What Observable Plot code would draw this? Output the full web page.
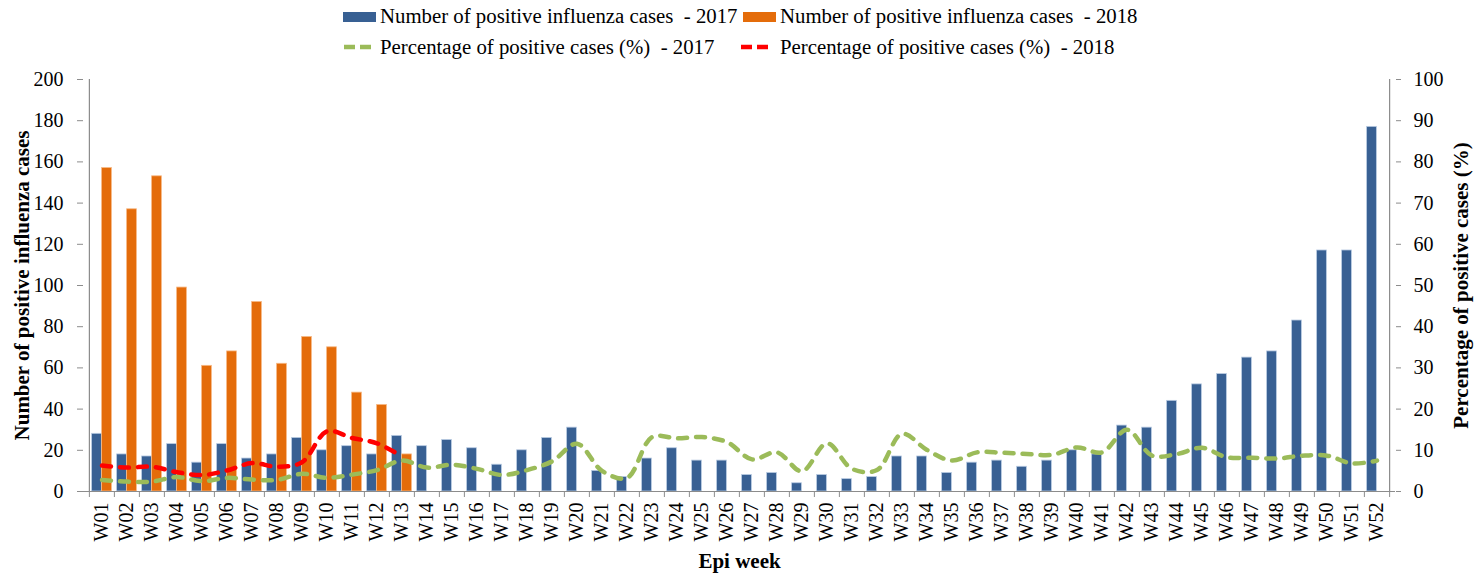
<!DOCTYPE html>
<html>
<head>
<meta charset="utf-8">
<script src="https://cdn.jsdelivr.net/npm/d3@7"></script>
<script src="https://cdn.jsdelivr.net/npm/@observablehq/plot@0.6"></script>
<style>
  body { margin: 0; background: #fff; }
  svg { display: block; }
  #chart { width: 1483px; }
  #chart svg, #chart svg text { font-family: "Liberation Serif", "Times New Roman", serif !important; }
</style>
</head>
<body>
<div id="chart"></div>
<script>
// ---------- data ----------
const weeks = ["W01","W02","W03","W04","W05","W06","W07","W08","W09","W10",
  "W11","W12","W13","W14","W15","W16","W17","W18","W19","W20",
  "W21","W22","W23","W24","W25","W26","W27","W28","W29","W30",
  "W31","W32","W33","W34","W35","W36","W37","W38","W39","W40",
  "W41","W42","W43","W44","W45","W46","W47","W48","W49","W50",
  "W51","W52"];

const cases2017 = [28,18,17,23,14,23,16,18,26,20,
  22,18,27,22,25,21,13,20,26,31,
  10,7,16,21,15,15,8,9,4,8,
  6,7,17,17,9,14,15,12,15,20,
  18,32,31,44,52,57,65,68,83,117,
  117,177];

const cases2018 = [157,137,153,99,61,68,92,62,75,70,48,42,18];

const pct2017 = [2.8,2.4,2.4,3.5,2.5,3.3,2.9,2.8,4.3,3.3,
  4.1,5.2,7.5,5.8,6.5,5.5,4.0,5.2,7.3,11.6,
  5.0,3.3,13.2,12.9,13.2,12.0,7.8,9.5,4.9,11.7,
  5.5,5.2,14.0,10.1,7.5,9.5,9.4,9.1,8.9,10.7,
  9.5,15.0,8.7,9.1,10.6,8.3,8.2,8.0,8.7,8.7,
  6.8,7.5];

const pct2018 = [6.3,5.8,6.0,4.7,4.0,5.1,6.9,6.0,7.1,14.6,13.0,11.7,8.5];

const leftTicks = [0,20,40,60,80,100,120,140,160,180,200];
const rightTicks = [0,10,20,30,40,50,60,70,80,90,100];

const seriesNames = [
  "Number of positive influenza cases  - 2017",
  "Number of positive influenza cases  - 2018",
  "Percentage of positive cases (%)  - 2017",
  "Percentage of positive cases (%)  - 2018"
];
const seriesColors = ["#386093", "#E46C0A", "#9BBB59", "#FF0000"];

const yTitleLeft = "Number of positive influenza cases";
const yTitleRight = "Percentage of positive cases (%)";
const xTitle = "Epi week";

// ---------- layout ----------
const W = 1483, legendH = 62, H = 575 - legendH;
const mL = 83, mR = 88, mT = 17, mB = 84;
const bw = (W - mL - mR) / weeks.length;
const barW = 10;
const pctToCount = 200 / 100; // right axis 0–100 shares the left 0–200 range
const axisGray = "#8c8c8c";
const font = "'Liberation Serif', 'Times New Roman', serif";

const bars17 = weeks.map((w, i) => ({week: w, value: cases2017[i]}));
const bars18 = cases2018.map((v, i) => ({week: weeks[i], value: v}));
const line17 = weeks.map((w, i) => ({week: w, pct: pct2017[i]}));
const line18 = pct2018.map((v, i) => ({week: weeks[i], pct: v}));

// ---------- legend ----------
const legend = d3.create("svg")
  .attr("width", W).attr("height", legendH)
  .style("font-size", "20.8px");

const legItems = [
  {kind: "rect", sx: 343, tx: 380, cy: 17, base: 23},
  {kind: "rect", sx: 743, tx: 780, cy: 17, base: 23},
  {kind: "line", sx: 344, tx: 380, cy: 47, base: 54},
  {kind: "line", sx: 741, tx: 780, cy: 47, base: 54}
];
legItems.forEach((it, i) => {
  if (it.kind === "rect") {
    legend.append("rect").attr("x", it.sx).attr("y", it.cy - 5)
      .attr("width", 33).attr("height", 10).attr("fill", seriesColors[i]);
  } else {
    legend.append("line").attr("x1", it.sx).attr("x2", it.sx + 28)
      .attr("y1", it.cy).attr("y2", it.cy)
      .attr("stroke", seriesColors[i]).attr("stroke-width", 4.5)
      .attr("stroke-dasharray", "11,5");
  }
  legend.append("text").attr("x", it.tx).attr("y", it.base)
    .style("white-space", "pre").attr("fill", "#000").text(seriesNames[i]);
});
document.getElementById("chart").appendChild(legend.node());

// ---------- chart ----------
const plot = Plot.plot({
  width: W, height: H,
  marginLeft: mL, marginRight: mR, marginTop: mT, marginBottom: mB,
  style: {fontFamily: font, fontSize: "20px", color: "#000", background: "#fff", overflow: "visible"},
  x: {type: "band", domain: weeks, padding: 0, axis: null},
  y: {domain: [0, 200], axis: null},
  marks: [
    Plot.barY(bars17, {x: "week", y: "value", fill: seriesColors[0],
      stroke: "#b9cbe2", strokeWidth: 0.8,
      insetLeft: bw / 2 - barW, insetRight: bw / 2}),
    Plot.barY(bars18, {x: "week", y: "value", fill: seriesColors[1],
      stroke: "#f6b884", strokeWidth: 0.8,
      insetLeft: bw / 2, insetRight: bw / 2 - barW}),
    Plot.line(line17, {x: "week", y: d => d.pct * pctToCount, stroke: seriesColors[2],
      strokeWidth: 4.5, strokeDasharray: "9,9", strokeLinecap: "round", curve: "catmull-rom"}),
    Plot.line(line18, {x: "week", y: d => d.pct * pctToCount, stroke: seriesColors[3],
      strokeWidth: 4.5, strokeDasharray: "9,9", strokeLinecap: "round", curve: "catmull-rom"}),
    Plot.ruleY([0], {stroke: axisGray, strokeWidth: 1.2}),
    Plot.ruleX([weeks[0]], {dx: -bw / 2, stroke: axisGray, strokeWidth: 1.2}),
    Plot.ruleX([weeks[weeks.length - 1]], {dx: bw / 2, stroke: axisGray, strokeWidth: 1.2}),
    Plot.axisY({anchor: "left", ticks: leftTicks, tickSize: 6, tickPadding: 14,
      stroke: axisGray, fill: "#000", label: null}),
    Plot.axisY({anchor: "right", ticks: rightTicks.map(v => v * pctToCount),
      tickFormat: d => String(d / pctToCount), tickSize: 5, tickPadding: 13,
      stroke: axisGray, fill: "#000", label: null}),
    Plot.axisX({anchor: "bottom", tickSize: 0, tickRotate: -90, tickPadding: 11,
      fill: "#000", label: null}),
    Plot.axisX({anchor: "bottom", ticks: weeks, tickSize: 6, dx: -bw / 2,
      stroke: axisGray, fill: "none", label: null}),
    Plot.axisX({anchor: "bottom", ticks: [weeks[weeks.length - 1]], tickSize: 6, dx: bw / 2,
      stroke: axisGray, fill: "none", label: null}),
    Plot.text([yTitleLeft], {frameAnchor: "left", text: d => d, dx: -61, rotate: -90,
      textAnchor: "middle", fontWeight: "bold", fontSize: 21, fill: "#000"}),
    Plot.text([yTitleRight], {frameAnchor: "right", text: d => d, dx: 66, rotate: -90,
      textAnchor: "middle", fontWeight: "bold", fontSize: 21, fill: "#000"}),
    Plot.text([xTitle], {frameAnchor: "bottom", text: d => d, dy: 70, lineAnchor: "middle",
      fontWeight: "bold", fontSize: 21, fill: "#000"})
  ]
});
document.getElementById("chart").appendChild(plot);
</script>
</body>
</html>
